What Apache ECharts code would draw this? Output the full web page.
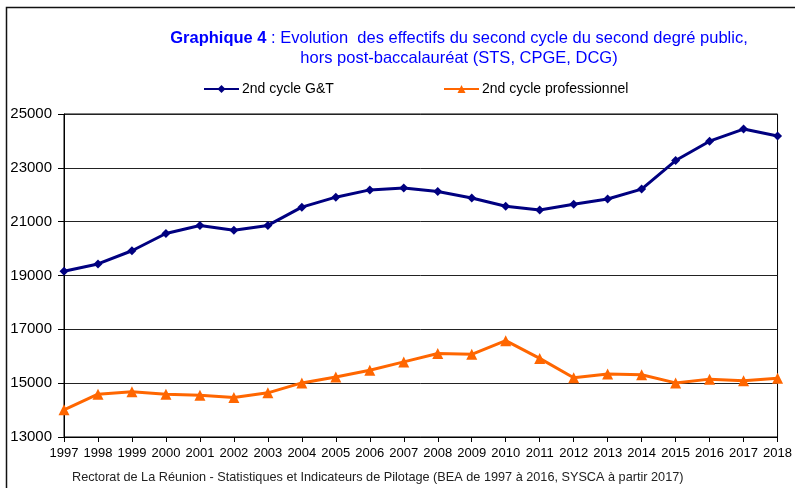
<!DOCTYPE html>
<html>
<head>
<meta charset="utf-8">
<script src="https://cdn.jsdelivr.net/npm/echarts@6/dist/echarts.min.js"></script>
<style>html,body{margin:0;padding:0;background:#fff}#c{width:795px;height:488px}</style>
</head>
<body>
<div id="c"></div>
<script>
const years = ['1997','1998','1999','2000','2001','2002','2003','2004','2005','2006','2007','2008','2009','2010','2011','2012','2013','2014','2015','2016','2017','2018'];
const gtValues = [19160, 19430, 19920, 20560, 20860, 20680, 20860, 21540, 21910, 22180, 22250, 22120, 21880, 21570, 21430, 21650, 21840, 22210, 23270, 23990, 24440, 24180];
const proValues = [14010, 14590, 14680, 14590, 14550, 14470, 14640, 15010, 15230, 15480, 15790, 16100, 16070, 16580, 15920, 15200, 15340, 15310, 15010, 15150, 15090, 15180];
const seriesNames = ['2nd cycle G&T', '2nd cycle professionnel'];
const yTicks = { min: 13000, max: 25000, step: 2000 };

const chart = echarts.init(document.getElementById('c'), null, { renderer: 'canvas' });
const font = 'Liberation Sans, Arial, sans-serif';
chart.setOption({
  backgroundColor: '#fff',
  animation: false,
  title: {
    left: 459, top: 28, textAlign: 'center', padding: 0,
    text: '{b|Graphique 4} : Evolution  des effectifs du second cycle du second degré public,\nhors post-baccalauréat (STS, CPGE, DCG)',
    textStyle: {
      fontFamily: font, fontSize: 16.5, color: '#0000ff', fontWeight: 'normal', lineHeight: 20,
      rich: { b: { fontFamily: font, fontSize: 16.5, color: '#0000ff', fontWeight: 'bold', lineHeight: 20 } }
    }
  },
  legend: [
    { data: [seriesNames[0]], left: 203, top: 82, padding: 0, itemWidth: 35, itemHeight: 10, itemGap: 4,
      textStyle: { fontFamily: font, fontSize: 14, color: '#000', padding: [0,0,0,-2] } },
    { data: [seriesNames[1]], left: 443, top: 82, padding: 0, itemWidth: 35, itemHeight: 10, itemGap: 4,
      textStyle: { fontFamily: font, fontSize: 14, color: '#000', padding: [0,0,0,-2] } }
  ],
  grid: { left: 64, right: 12, top: 114, bottom: 51, show: true, borderColor: '#000', borderWidth: 1 },
  xAxis: {
    type: 'category', data: years, boundaryGap: false,
    axisLine: { lineStyle: { color: '#000', width: 1 } },
    axisTick: { show: true, interval: 0, length: 5, lineStyle: { color: '#000' } },
    axisLabel: { interval: 0, fontFamily: font, fontSize: 13, color: '#000', margin: 10 },
    splitLine: { show: false }
  },
  yAxis: {
    type: 'value', min: yTicks.min, max: yTicks.max, interval: yTicks.step,
    axisLine: { show: true, lineStyle: { color: '#000', width: 1 } },
    axisTick: { show: true, length: 6, lineStyle: { color: '#000' } },
    axisLabel: { fontFamily: font, fontSize: 15, color: '#000', margin: 12, formatter: v => String(v) },
    splitLine: { show: true, lineStyle: { color: '#222', width: 1 } }
  },
  series: [
    { name: seriesNames[0], type: 'line', data: gtValues, symbol: 'diamond', symbolSize: 9,
      lineStyle: { color: '#000080', width: 3 }, itemStyle: { color: '#000080' } },
    { name: seriesNames[1], type: 'line', data: proValues, symbol: 'triangle', symbolSize: 11,
      lineStyle: { color: '#ff6600', width: 3 }, itemStyle: { color: '#ff6600' } }
  ],
  graphic: [
    { type: 'polyline', shape: { points: [[6.5, 488], [6.5, 7.5], [795, 7.5]] },
      style: { stroke: '#111', lineWidth: 1.5, fill: null }, silent: true },
    { type: 'text', left: 72, top: 471,
      style: { text: 'Rectorat de La Réunion - Statistiques et Indicateurs de Pilotage (BEA de 1997 à 2016, SYSCA à partir 2017)',
        font: '12.7px Liberation Sans, Arial, sans-serif', fill: '#222' } }
  ]
});
</script>
</body>
</html>
